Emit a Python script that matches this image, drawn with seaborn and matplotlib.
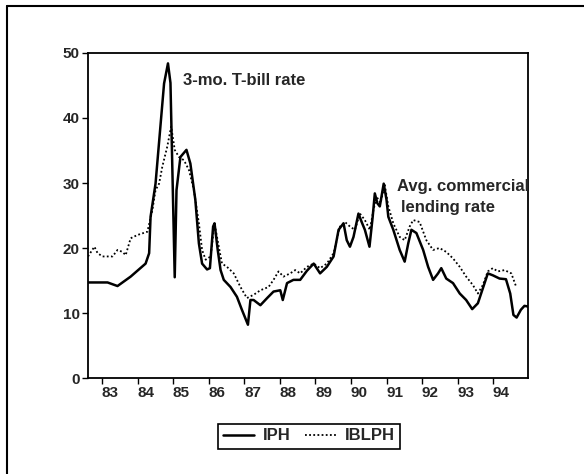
import numpy as np
import pandas as pd
import seaborn as sns
import matplotlib.pyplot as plt
from matplotlib.lines import Line2D

# IPH (3-mo. T-bill rate)
t_iph = [1982.60, 1983.15, 1983.43, 1983.80, 1984.22, 1984.32, 1984.36, 1984.50,
         1984.74, 1984.85, 1984.92, 1985.04, 1985.09, 1985.20, 1985.37, 1985.48,
         1985.62, 1985.72, 1985.81, 1985.95, 1986.03, 1986.12, 1986.16, 1986.25,
         1986.33, 1986.42, 1986.61, 1986.79, 1986.93, 1987.10, 1987.17, 1987.26,
         1987.45, 1987.64, 1987.82, 1988.01, 1988.08, 1988.20, 1988.38, 1988.57,
         1988.76, 1988.95, 1989.13, 1989.32, 1989.51, 1989.65, 1989.79, 1989.88,
         1989.97, 1990.07, 1990.21, 1990.30, 1990.39, 1990.52, 1990.61, 1990.67,
         1990.74, 1990.81, 1990.92, 1991.00, 1991.05, 1991.19, 1991.37, 1991.51,
         1991.61, 1991.70, 1991.84, 1992.03, 1992.17, 1992.31, 1992.45, 1992.54,
         1992.68, 1992.87, 1993.06, 1993.24, 1993.41, 1993.57, 1993.71, 1993.85,
         1993.99, 1994.18, 1994.36, 1994.48, 1994.57, 1994.66, 1994.78, 1994.88,
         1994.98]
iph = [14.7, 14.7, 14.15, 15.6, 17.6, 19.2, 24.8, 29.9,
       45.3, 48.4, 45.4, 15.5, 28.9, 34.0, 35.1, 33.0,
       27.4, 20.7, 17.6, 16.7, 16.9, 23.3, 23.8, 19.7,
       16.6, 15.1, 14.0, 12.5, 10.5, 8.2, 12.0, 12.0,
       11.2, 12.3, 13.3, 13.5, 12.0, 14.6, 15.1, 15.1,
       16.5, 17.6, 16.1, 17.1, 18.7, 22.8, 23.8, 21.2,
       20.2, 21.7, 25.3, 24.0, 22.8, 20.2, 24.8, 28.4,
       26.9, 26.4, 29.9, 27.4, 24.8, 22.8, 19.7, 17.9,
       20.7, 22.8, 22.3, 19.7, 17.1, 15.1, 16.1, 16.9,
       15.3, 14.6, 13.0, 12.0, 10.6, 11.5, 13.8, 16.1,
       15.8, 15.3, 15.2, 13.0, 9.7, 9.3, 10.5, 11.1,
       11.0]

# IBLPH (tasa de prestamos comerciales)
t_ibl = [1982.60, 1982.78, 1982.87, 1983.01, 1983.29, 1983.43, 1983.57, 1983.66,
         1983.80, 1983.99, 1984.27, 1984.41, 1984.50, 1984.60, 1984.69, 1984.83,
         1984.94, 1985.04, 1985.16, 1985.30, 1985.44, 1985.58, 1985.72, 1985.81,
         1985.91, 1986.05, 1986.16, 1986.28, 1986.37, 1986.51, 1986.70, 1986.89,
         1987.07, 1987.26, 1987.45, 1987.68, 1987.82, 1987.96, 1988.10, 1988.29,
         1988.43, 1988.57, 1988.76, 1988.95, 1989.13, 1989.32, 1989.51, 1989.69,
         1989.83, 1989.97, 1990.11, 1990.25, 1990.39, 1990.53, 1990.63, 1990.72,
         1990.83, 1990.95, 1991.05, 1991.19, 1991.37, 1991.51, 1991.65, 1991.75,
         1991.93, 1992.12, 1992.31, 1992.49, 1992.68, 1992.87, 1993.06, 1993.24,
         1993.43, 1993.57, 1993.71, 1993.85, 1993.99, 1994.13, 1994.32, 1994.51,
         1994.65]
iblph = [18.7, 20.2, 19.2, 18.7, 18.7, 19.7, 19.4, 18.9,
         21.5, 22.0, 22.5, 25.8, 28.9, 29.9, 32.5, 35.6,
         38.7, 35.1, 34.0, 33.5, 32.0, 28.9, 23.8, 19.7,
         18.2, 18.7, 23.8, 20.2, 17.6, 17.1, 16.1, 14.0,
         12.3, 12.8, 13.5, 14.0, 15.1, 16.4, 15.6, 16.1,
         16.6, 16.1, 17.1, 17.6, 16.9, 17.6, 19.2, 23.3,
         24.0, 23.3, 22.8, 25.3, 24.3, 22.8, 25.8, 27.9,
         26.9, 29.7, 26.4, 23.8, 21.7, 21.2, 23.3, 24.3,
         24.0, 21.2, 19.7, 20.0, 19.4, 18.4, 17.1, 15.6,
         14.3, 13.0, 14.3, 16.4, 16.9, 16.4, 16.6, 16.1,
         14.0]

years = list(range(1983, 1995))
year_labels = ['83', '84', '85', '86', '87', '88', '89', '90', '91', '92', '93', '94']

sns.set_style('ticks')
plt.rcParams['font.family'] = ['Liberation Sans', 'DejaVu Sans']

fig = plt.figure(figsize=(5.84, 4.74), dpi=100)
ax = fig.add_axes([0.1507, 0.2025, 0.7534, 0.6857])

sns.lineplot(x=t_iph, y=iph, ax=ax, color='black', linewidth=1.8, label='IPH')
sns.lineplot(x=t_ibl, y=iblph, ax=ax, color='black', linewidth=1.3,
             linestyle=(0, (1, 1.3)), label='IBLPH')

ax.set_xlim(1982.6, 1994.98)
ax.set_ylim(0, 50)
ax.set_yticks([0, 10, 20, 30, 40, 50])
ax.set_yticklabels(['0', '10', '20', '30', '40', '50'], fontsize=11, fontweight='bold')

# marcas en el inicio de cada año, etiquetas algo corridas a la derecha
ax.set_xticks(years)
ax.set_xticklabels([''] * len(years))
ax.set_xticks([y + 0.23 for y in years], minor=True)
ax.set_xticklabels(year_labels, minor=True, fontsize=11, fontweight='bold')
ax.tick_params(axis='x', which='minor', length=0, pad=6)
ax.tick_params(axis='both', which='major', length=4, width=1, color='black', pad=2)

for s in ax.spines.values():
    s.set_linewidth(1.3)
    s.set_color('black')

ax.text(1985.28, 45.8, '3-mo. T-bill rate', fontsize=12, fontweight='bold',
        va='center', ha='left', clip_on=True)
ax.text(1991.30, 29.4, 'Avg. commercial', fontsize=12, fontweight='bold',
        va='center', ha='left', clip_on=True)
ax.text(1991.41, 26.3, 'lending rate', fontsize=12, fontweight='bold',
        va='center', ha='left', clip_on=True)

ax.get_legend().remove()
fig.legend(handles=ax.get_lines()[:2], labels=['IPH', 'IBLPH'], ncol=2,
           loc='center', bbox_to_anchor=(309 / 584, 1 - 436 / 474),
           fancybox=False, edgecolor='black', framealpha=1,
           handlelength=1.9, columnspacing=0.9, handletextpad=0.5,
           borderpad=0.3, prop={'weight': 'bold', 'size': 12})
fig.legends[0].get_frame().set_linewidth(1.2)

# marco exterior
fig.add_artist(Line2D([7 / 584, 7 / 584], [0, 1 - 6 / 474], color='black', lw=1.5,
                      transform=fig.transFigure))
fig.add_artist(Line2D([7 / 584, 1], [1 - 6 / 474, 1 - 6 / 474], color='black', lw=1.5,
                      transform=fig.transFigure))

fig.savefig('out.png', dpi=100)
